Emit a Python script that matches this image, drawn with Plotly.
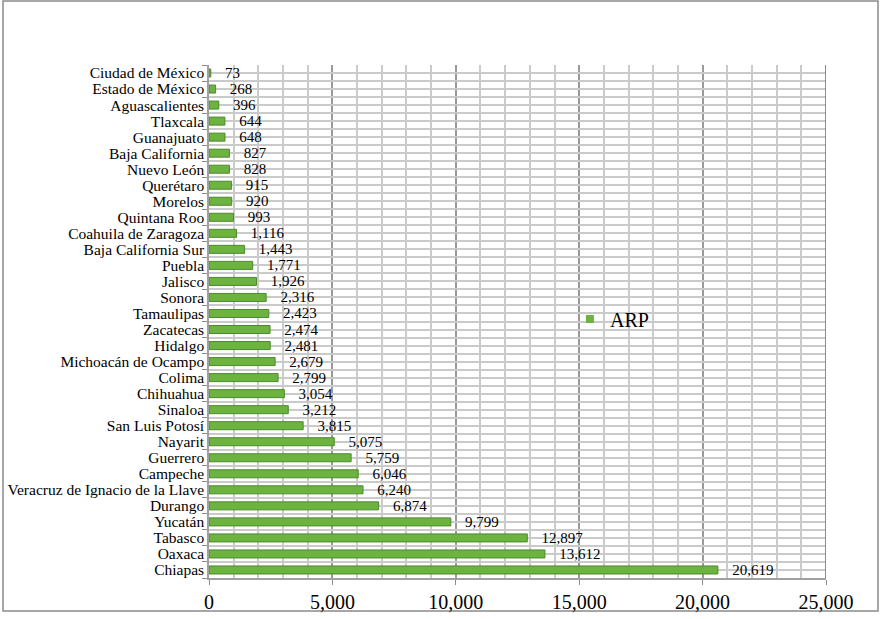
import plotly.graph_objects as go

states = ["Ciudad de México", "Estado de México", "Aguascalientes", "Tlaxcala", "Guanajuato",
          "Baja California", "Nuevo León", "Querétaro", "Morelos", "Quintana Roo",
          "Coahuila de Zaragoza", "Baja California Sur", "Puebla", "Jalisco", "Sonora",
          "Tamaulipas", "Zacatecas", "Hidalgo", "Michoacán de Ocampo", "Colima",
          "Chihuahua", "Sinaloa", "San Luis Potosí", "Nayarit", "Guerrero", "Campeche",
          "Veracruz de Ignacio de la Llave", "Durango", "Yucatán", "Tabasco", "Oaxaca", "Chiapas"]
arp = [73, 268, 396, 644, 648, 827, 828, 915, 920, 993, 1116, 1443, 1771, 1926, 2316,
       2423, 2474, 2481, 2679, 2799, 3054, 3212, 3815, 5075, 5759, 6046, 6240, 6874,
       9799, 12897, 13612, 20619]
x_ticks = [0, 5000, 10000, 15000, 20000, 25000]
x_tick_labels = ["0", "5,000", "10,000", "15,000", "20,000", "25,000"]

FONT = "Liberation Serif"
GREEN = "#6db33f"
W, H = 883, 619
L, R, T, B = 209, 57, 65, 41

fig = go.Figure()
fig.add_trace(go.Bar(
    y=states, x=arp, orientation="h", name="ARP",
    marker=dict(color=GREEN, line=dict(color="#4b8b2b", width=1)),
    width=0.5,
    text=["   " + f"{v:,}" for v in arp],
    textposition="outside", cliponaxis=False, constraintext="none",
    textfont=dict(family=FONT, size=15, color="#000000"),
    showlegend=False,
))
# legend entry with a small square symbol
fig.add_trace(go.Scatter(x=[None], y=[None], mode="markers", name="ARP",
                         marker=dict(symbol="square", size=8, color=GREEN),
                         showlegend=True, hoverinfo="skip"))
# helper overlay axis for half-category horizontal gridlines
fig.add_trace(go.Scatter(x=[None], y=[None], yaxis="y2", showlegend=False, hoverinfo="skip"))

fig.update_layout(
    width=W, height=H,
    margin=dict(l=L, r=R, t=T, b=B, autoexpand=False),
    paper_bgcolor="white", plot_bgcolor="white",
    font=dict(family=FONT, color="#000000"),
    xaxis=dict(range=[0, 25000], tickvals=x_ticks, ticktext=x_tick_labels,
               showgrid=True, gridcolor="#9a9a9a", gridwidth=1.5,
               minor=dict(dtick=1000, showgrid=True, gridcolor="#cacaca", gridwidth=1.5),
               ticks="outside", ticklen=5, tickcolor="#8c8c8c",
               showline=True, linecolor="#a0a0a0", linewidth=1.5,
               tickfont=dict(family=FONT, size=20, color="#000000"),
               zeroline=False, mirror=False, automargin=False),
    yaxis=dict(autorange="reversed", showgrid=False, tickson="boundaries",
               tickmode="array", tickvals=states,
               ticks="outside", ticklen=5, tickcolor="#8c8c8c",
               showline=True, linecolor="#a0a0a0", linewidth=1.5,
               tickfont=dict(family=FONT, size=15.5, color="#000000"),
               automargin=False),
    yaxis2=dict(overlaying="y", range=[-0.5, 31.5], dtick=0.5, tick0=-0.5,
                showgrid=True, gridcolor="#cacaca", gridwidth=1.5,
                showticklabels=False, ticks="", zeroline=False, side="right",
                automargin=False),
    legend=dict(x=0.585, y=0.505, xanchor="left", yanchor="middle",
                bgcolor="rgba(0,0,0,0)", font=dict(family=FONT, size=20, color="#000000"),
                itemwidth=30),
    bargap=0.5,
    shapes=[dict(type="rect", xref="paper", yref="paper",
                 x0=(3 - L) / (W - L - R), x1=(878 - L) / (W - L - R),
                 y0=-(611 - (H - B)) / (H - T - B), y1=(H - B - 1) / (H - T - B),
                 line=dict(color="#8a8a8a", width=1.5), layer="below"),
            dict(type="line", xref="x", yref="paper", x0=25000, x1=25000, y0=0, y1=1,
                 line=dict(color="#8a8a8a", width=2))],
)
fig.write_html("out.html", config={"displayModeBar": False},
               post_script="document.body.style.margin='0';")
